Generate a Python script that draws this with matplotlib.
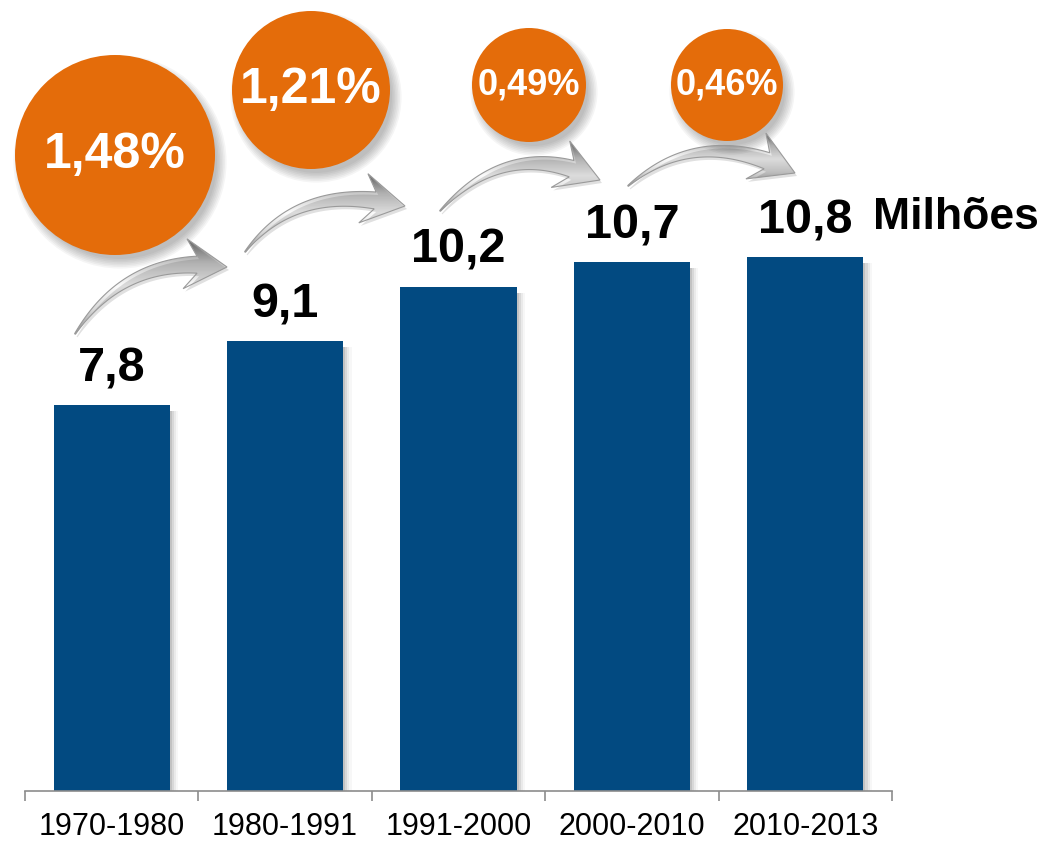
import matplotlib
matplotlib.use("Agg")
import matplotlib.pyplot as plt
import numpy as np
from matplotlib.colors import LinearSegmentedColormap
from matplotlib.patches import Circle, Polygon, Rectangle

periods = ["1970-1980", "1980-1991", "1991-2000", "2000-2010", "2010-2013"]
population = [7.8, 9.1, 10.2, 10.7, 10.8]
value_labels = ["7,8", "9,1", "10,2", "10,7", "10,8"]
growth_labels = ["1,48%", "1,21%", "0,49%", "0,46%"]
unit_label = "Milhões"

BAR_COLOR = "#024A81"
ORANGE = "#E46C0A"
W, H = 1046, 841

plt.rcParams["font.family"] = ["Liberation Sans", "DejaVu Sans"]

fig = plt.figure(figsize=(W / 100, H / 100), dpi=100)
ax = fig.add_axes([25 / W, 50 / H, 867 / W, 791 / H])

x = np.arange(len(periods))
bar_w = 0.67

# soft shadow to the right of each bar
for k, a in enumerate([0.10, 0.07, 0.05, 0.03]):
    dx = 0.012 + k * 0.012
    for xi, v in zip(x, population):
        ax.add_patch(Rectangle((xi - bar_w / 2 + dx, 0), bar_w, v - 0.12,
                               color="black", alpha=a, lw=0, zorder=1))
ax.bar(x, population, width=bar_w, color=BAR_COLOR, zorder=2)

for xi, v, lab in zip(x, population, value_labels):
    ax.annotate(lab, (xi, v), xytext=(0, 10), textcoords="offset points",
                ha="center", va="bottom", fontsize=35, fontweight="bold")
ax.annotate(unit_label, (x[-1] + bar_w / 2, population[-1]), xytext=(7, 14),
            textcoords="offset points", ha="left", va="bottom",
            fontsize=32, fontweight="bold", annotation_clip=False)

ax.set_xlim(-0.5, len(periods) - 0.5)
ax.set_ylim(0, 16)
ax.set_yticks([])
ax.set_xticks(x)
ax.set_xticklabels(periods, fontsize=22)
ax.set_xticks(np.arange(-0.5, len(periods)), minor=True)
ax.tick_params(axis="x", which="major", length=0, pad=15)
ax.tick_params(axis="x", which="minor", length=7, color="#8c8c8c", width=1.2)
for side in ["left", "right", "top"]:
    ax.spines[side].set_visible(False)
ax.spines["bottom"].set_color("#8c8c8c")
ax.spines["bottom"].set_linewidth(1.2)

# overlay in pixel coordinates for the bubbles and arrows
ov = fig.add_axes([0, 0, 1, 1], zorder=5)
ov.set_xlim(0, W)
ov.set_ylim(H, 0)
ov.axis("off")
ov.patch.set_alpha(0)

bubbles = [((115, 155), 100, 36), ((311, 90), 79, 36),
           ((529, 85), 57, 26), ((727, 85), 56, 26)]
for (cx, cy), r, fs in bubbles:
    for k in range(7):
        ov.add_patch(Circle((cx + 5, cy + 7), r - 3 + k * 1.6, color="black",
                            alpha=0.04, lw=0))
for ((cx, cy), r, fs), lab in zip(bubbles, growth_labels):
    ov.add_patch(Circle((cx, cy), r, color=ORANGE, lw=0))
    ov.text(cx, cy, lab, ha="center", va="center", color="white",
            fontsize=fs, fontweight="bold")


def arrow_polygon(p0, pc, p1, w_tail=1.0, w_shaft=17.0, head_len=30.0,
                  head_w=50.0, sweep=12.0):
    p0, pc, p1 = map(np.asarray, (p0, pc, p1))
    t = np.linspace(0, 1, 300)[:, None]
    pts = (1 - t) ** 2 * p0 + 2 * (1 - t) * t * pc + t ** 2 * p1
    seg = np.r_[0, np.cumsum(np.hypot(*np.diff(pts, axis=0).T))]
    keep = seg <= seg[-1] - head_len
    shaft = pts[keep]
    d = np.gradient(shaft, axis=0)
    d /= np.hypot(d[:, 0], d[:, 1])[:, None]
    n = np.c_[d[:, 1], -d[:, 0]]
    w = np.linspace(w_tail, w_shaft, len(shaft))[:, None] / 2
    upper = shaft + n * w
    lower = shaft - n * w
    base = shaft[-1]
    dir_h = (p1 - base) / np.hypot(*(p1 - base))
    nh = np.array([dir_h[1], -dir_h[0]])
    barb_u = base - dir_h * sweep + nh * head_w / 2
    barb_l = base - dir_h * sweep - nh * head_w / 2
    return np.vstack([upper, barb_u, p1, barb_l, lower[::-1]])


silver = LinearSegmentedColormap.from_list(
    "silver", ["#6a6a6a", "#c8c8c8", "#fbfbfb", "#d8d8d8", "#8e8e8e"])
arrows = [((75, 334), (128, 252), (227, 267)),
          ((245, 252), (300, 180), (405, 206)),
          ((440, 211), (510, 135), (600, 180)),
          ((628, 186), (700, 124), (795, 173))]
grad = np.linspace(0, 1, 256)[:, None] * np.ones((1, 4))
for p0, pc, p1 in arrows:
    poly = arrow_polygon(p0, pc, p1)
    shadow = Polygon(poly + [2, 3], closed=True, color="black", alpha=0.12, lw=0)
    ov.add_patch(shadow)
    patch = Polygon(poly, closed=True, fc="none", ec="#9a9a9a", lw=0.8)
    ov.add_patch(patch)
    x0, y0 = poly.min(axis=0)
    x1, y1 = poly.max(axis=0)
    im = ov.imshow(grad, cmap=silver, extent=(x0, x1, y1, y0), origin="upper",
                   aspect="auto", interpolation="bilinear")
    im.set_clip_path(patch)

ov.set_xlim(0, W)
ov.set_ylim(H, 0)

fig.savefig("out.png", dpi=100)
